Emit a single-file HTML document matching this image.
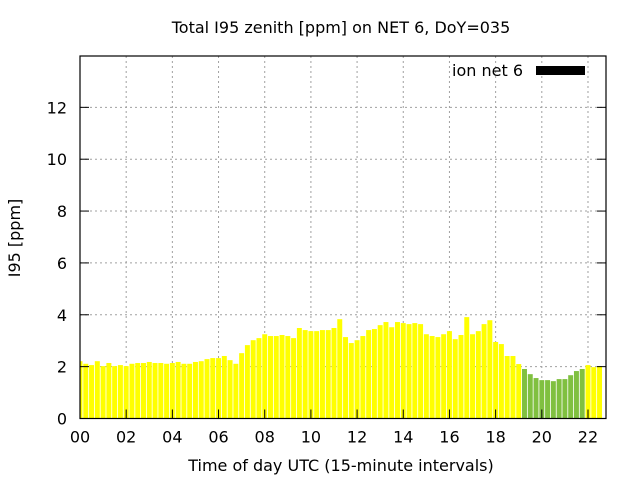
<!DOCTYPE html>
<html><head><meta charset="utf-8"><style>
html,body{margin:0;padding:0;background:#fff;}
svg text{font-family:"DejaVu Sans","Liberation Sans",sans-serif;fill:#000;}
</style></head><body>
<svg id="chart" width="640" height="480" viewBox="0 0 640 480">
<rect width="640" height="480" fill="#fff"/>
<g id="grid"></g>
<g id="bars"></g>
<g id="axes"></g>
<text x="341" y="33" font-size="16" text-anchor="middle">Total I95 zenith [ppm] on NET 6, DoY=035</text>
<text x="341" y="471" font-size="16" text-anchor="middle">Time of day UTC (15-minute intervals)</text>
<text transform="translate(20,238) rotate(-90)" font-size="16" text-anchor="middle">I95 [ppm]</text>
<g>
<text x="523" y="76" font-size="16" text-anchor="end">ion net 6</text>
<rect x="536" y="66" width="49" height="9" fill="#000"/>
</g>
</svg>
<script>
const values = [2.21,2.11,2.06,2.21,2.02,2.14,2.02,2.06,2.02,2.11,2.14,2.14,2.18,2.14,2.14,2.11,2.14,2.18,2.11,2.11,2.18,2.21,2.29,2.33,2.33,2.41,2.25,2.11,2.52,2.83,3.02,3.10,
3.25,3.18,3.18,3.22,3.18,3.10,3.49,3.41,3.37,3.37,3.41,3.41,3.49,3.83,3.14,2.91,3.02,3.18,3.41,3.45,3.60,3.72,3.52,3.72,3.68,3.64,3.68,3.64,3.25,
3.18,3.14,3.25,3.37,3.06,3.22,3.91,3.25,3.37,3.64,3.79,2.95,2.87,2.41,2.41,2.10,1.91,1.71,1.56,1.48,1.48,1.44,1.52,1.52,1.67,1.83,1.91,2.06,1.98,2.02];
const flags = values.map((v,i)=> (i>=77 && i<=87) ? 1 : 0);
const xTicks = ["00","02","04","06","08","10","12","14","16","18","20","22"];
const yTicks = [0,2,4,6,8,10,12];
const L=80,R=606,T=56,B=418.5, xMax=22.78, yMax=13.98;
const xs = h => L + h*(R-L)/xMax;
const ys = v => B - v*(B-T)/yMax;
const NS="http://www.w3.org/2000/svg";
function mk(tag, attrs, parent){const e=document.createElementNS(NS,tag);for(const k in attrs)e.setAttribute(k,attrs[k]);parent.appendChild(e);return e;}
const grid=document.getElementById('grid'), bars=document.getElementById('bars'), axes=document.getElementById('axes');
yTicks.forEach(v=>{
  const y=ys(v);
  if(v>0){const g=mk('line',{x1:L,x2:R,y1:y,y2:y,stroke:'#a0a0a0','stroke-dasharray':'2,3'},grid);
  
  }
  mk('line',{x1:L,x2:L+9,y1:y,y2:y,stroke:'#000'},axes);
  mk('line',{x1:R,x2:R-9,y1:y,y2:y,stroke:'#000'},axes);
  const t=mk('text',{x:L-13,y:y+6,'font-size':16,'text-anchor':'end'},axes);
  t.textContent=v;
  
  
});
xTicks.forEach(s=>{
  const x=xs(parseInt(s,10));
  if(parseInt(s,10)>0){const g=mk('line',{x1:x,x2:x,y1:T,y2:B,stroke:'#a0a0a0','stroke-dasharray':'2,3'},grid);
  
  }
  mk('line',{x1:x,x2:x,y1:B,y2:B-9,stroke:'#000'},axes);
  const t=mk('text',{x:x,y:B+24,'font-size':16,'text-anchor':'middle'},axes);
  t.textContent=s;
  
  
});
const bw=(R-L)/xMax/4*0.86;
values.forEach((v,i)=>{
  const cx=xs(i*0.25);
  let x0=cx-bw/2, x1=cx+bw/2;
  if(x0<L)x0=L; if(x1>R)x1=R;
  const r=mk('rect',{x:x0,y:ys(v),width:x1-x0,height:B-ys(v),fill:flags[i]?'#80c040':'#ffff00'},bars);
  
  
});
const frame=mk('rect',{x:L,y:T,width:R-L,height:B-T,fill:'none',stroke:'#000','stroke-width':1.2},axes);


</script>
</body></html>
